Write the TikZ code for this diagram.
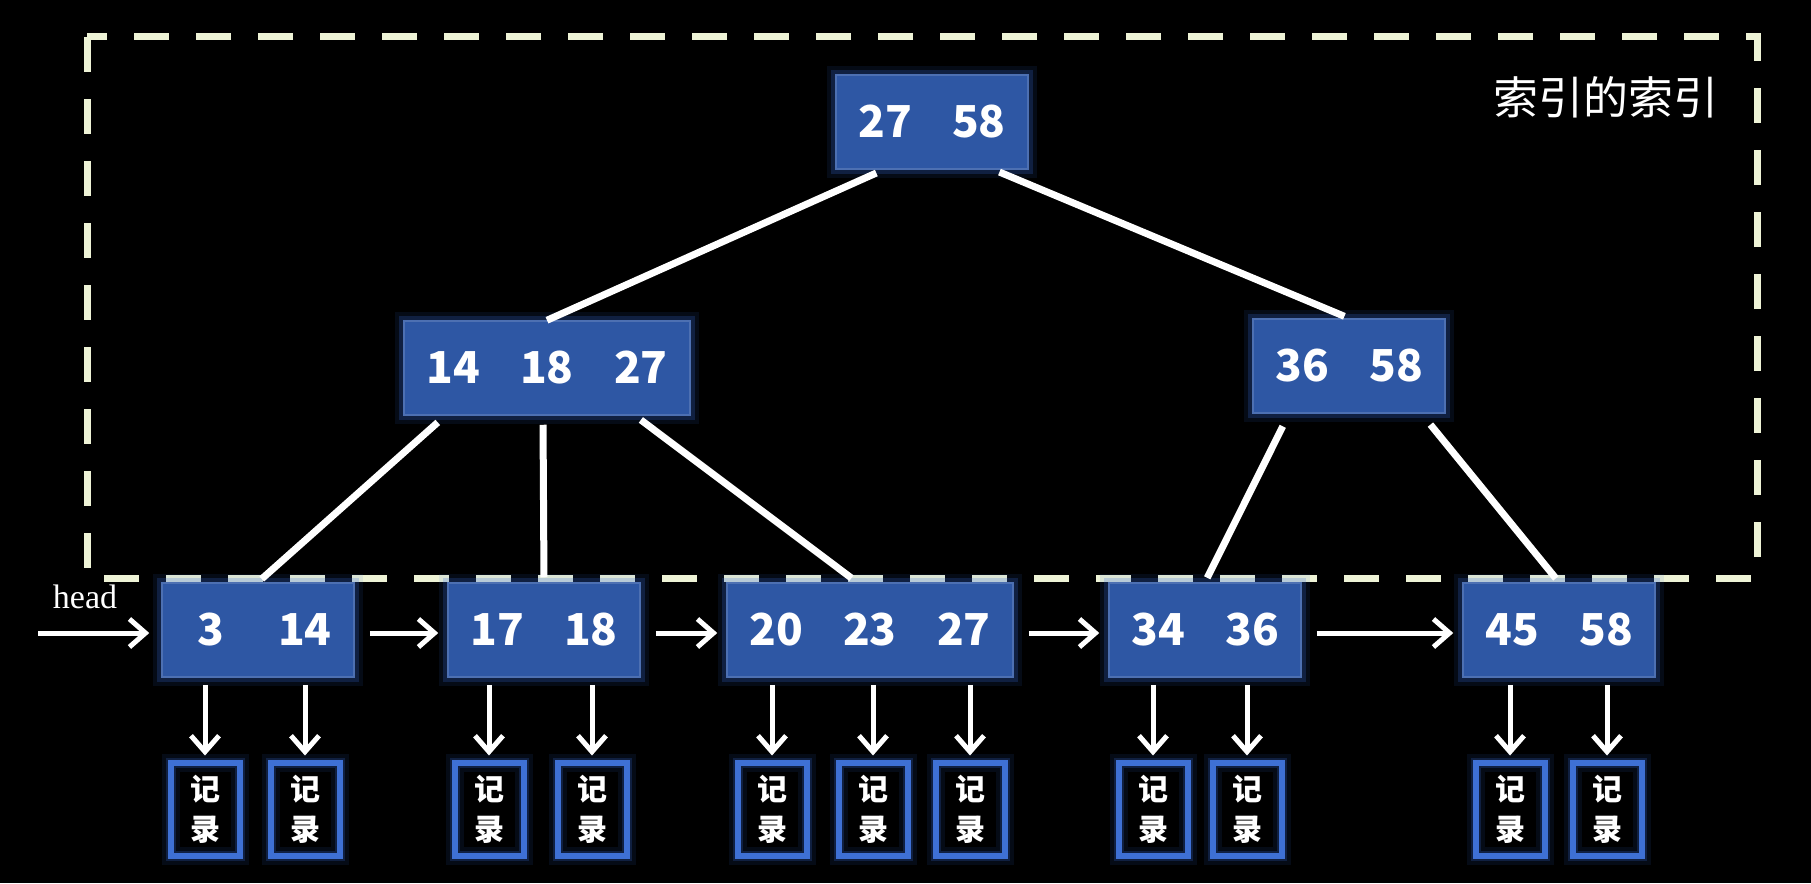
\documentclass[tikz,border=0pt]{standalone}
\usepackage{fontspec}
\setmainfont{Liberation Serif}
\newfontfamily\cjk{Noto Sans CJK SC}
\usetikzlibrary{arrows.meta,calc}
\definecolor{nodeblue}{RGB}{46,87,164}
\definecolor{glowblue}{RGB}{58,108,222}
\definecolor{recblue}{RGB}{62,112,212}
\definecolor{fencecol}{RGB}{238,243,214}
\newcommand\kk[1]{\makebox[94pt]{#1}}
\tikzset{
  glow/.style={preaction={draw=glowblue, line width=18pt, opacity=0.10},
               preaction={draw=glowblue, line width=10pt, opacity=0.22}},
  keybox/.style={glow, fill=nodeblue, draw=nodeblue!85!white, line width=1.5pt,
              minimum height=94pt, inner xsep=2pt, inner ysep=0pt, text=white,
              font=\cjk\bfseries\fontsize{44}{44}\selectfont},
  recbox/.style={glow, draw=recblue, line width=6pt,
              minimum width=69pt, minimum height=93pt, inner sep=0pt, text=white,
              align=center, font=\cjk\bfseries\fontsize{30}{40}\selectfont},
  edge/.style={white, line width=7pt},
  link/.style={-{Straight Barb[length=16pt,width=28pt]}, white, line width=5pt},
  fence/.style={fencecol, line width=7pt, dash pattern=on 35pt off 27pt},
}
\begin{document}
\begin{tikzpicture}[x=1pt,y=-1pt]
    \fill[black] (0,0) rectangle (1811,883);
    \useasboundingbox (0,0) rectangle (1811,883);
    \draw[fence] (87,37) rectangle (1757,578);
    \node[text=white, font=\cjk\fontsize{45}{45}\selectfont] (ttl) at (1606,97) {索引的索引};
    % index levels
    \node[keybox] (top) at (932,122) {\kk{27}\kk{58}};
    \node[keybox] (ml) at (547,368) {\kk{14}\kk{18}\kk{27}};
    \node[keybox] (mr) at (1349,366) {\kk{36}\kk{58}};
    % leaf pages
    \node[keybox] (lf1) at (258,630) {\kk{3}\kk{14}};
    \node[keybox] (lf2) at (544,630) {\kk{17}\kk{18}};
    \node[keybox] (lf3) at (870,630) {\kk{20}\kk{23}\kk{27}};
    \node[keybox] (lf4) at (1205,630) {\kk{34}\kk{36}};
    \node[keybox] (lf5) at (1559,630) {\kk{45}\kk{58}};
    % records
    \foreach \n/\x/\p in {1/205/lf1,2/305/lf1,3/489/lf2,4/592/lf2,5/772/lf3,6/873/lf3,7/970/lf3,8/1153/lf4,9/1247/lf4,10/1510/lf5,11/1607/lf5} {
      \node[recbox] (r\n) at (\x,809) {记\\录};
      \draw[link, shorten <=7pt, shorten >=4pt] (\p.south -| r\n.north) -- (r\n.north);
    }
    % tree edges
    \draw[edge, shorten <=8pt] ($(top.south west)!0.25!(top.south east)$) -- (ml.north);
    \draw[edge, shorten <=6pt, shorten >=5pt] ($(top.south west)!0.82!(top.south east)$) -- (mr.north);
    \draw[edge, shorten <=10pt, shorten >=5pt] ($(ml.south west)!0.146!(ml.south east)$) -- (lf1.north);
    \draw[edge, shorten <=9pt, shorten >=5pt] ($(ml.south west)!0.486!(ml.south east)$) -- ($(lf2.north west)!0.5!(lf2.north east)$);
    \draw[edge, shorten <=7pt, shorten >=7pt] ($(ml.south west)!0.807!(ml.south east)$) -- ($(lf3.north west)!0.455!(lf3.north east)$);
    \draw[edge, shorten <=14pt, shorten >=5pt] ($(mr.south west)!0.19!(mr.south east)$) -- (lf4.north);
    \draw[edge, shorten <=14pt, shorten >=5pt] ($(mr.south west)!0.875!(mr.south east)$) -- (lf5.north);
    % leaf chain
    \node[font=\fontsize{34}{34}\selectfont, text=white] (hd) at (85,597) {head};
    \coordinate (hs) at (38,633);
    \draw[link, shorten >=12pt] (hs) -- (hs -| lf1.west);
    \foreach \a/\b in {lf1/lf2,lf2/lf3,lf3/lf4,lf4/lf5}
      \draw[link, shorten <=15pt, shorten >=9pt] ([yshift=-3pt]\a.east) -- ([yshift=-3pt]\b.west);
\end{tikzpicture}
\end{document}
